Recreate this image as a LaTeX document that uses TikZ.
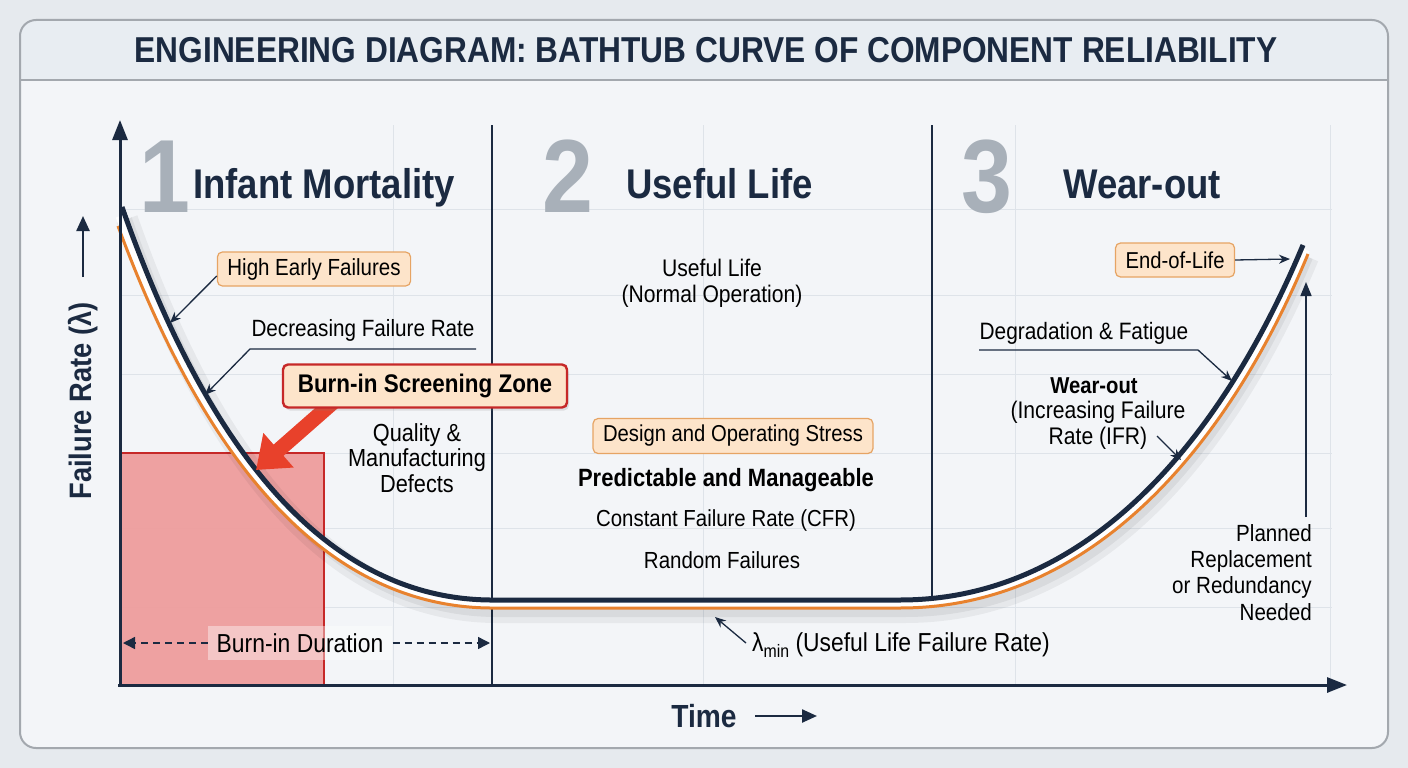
\documentclass[tikz,border=0pt]{standalone}
\usepackage{fontspec}
\setmainfont{Liberation Sans}[FakeStretch=0.88]
\usetikzlibrary{arrows.meta,shadows}
\definecolor{navy}{HTML}{1B2A41}
\definecolor{pageb}{HTML}{E6EAEE}
\definecolor{framefill}{HTML}{F3F5F8}
\definecolor{titlefill}{HTML}{E8EDF2}
\definecolor{frameline}{HTML}{A3A8AE}
\definecolor{gridc}{HTML}{DEE3E9}
\definecolor{curveor}{HTML}{E8822E}
\definecolor{peach}{HTML}{FDE4CA}
\definecolor{peachline}{HTML}{E6A464}
\definecolor{zonered}{HTML}{C62828}
\definecolor{boxred}{HTML}{EE9D9D}
\definecolor{arrowred}{HTML}{E8412B}
\definecolor{digitgray}{HTML}{A8B0B9}
\newcommand{\fsz}[1]{\fontsize{#1}{26}\selectfont}
\begin{document}
\begin{tikzpicture}[x=1pt,y=-1pt,
 lbl/.style={font=\fsz{23.5}, text=black, inner sep=0pt, align=center},
 tag/.style={lbl, draw=peachline, fill=peach, rounded corners=5pt, line width=1.2pt, inner xsep=10pt, inner ysep=0pt, minimum height=34pt},
 leader/.style={draw=navy, line width=1.3pt, -{Stealth[length=11pt,width=9pt]}},
 head/.style={font=\fontsize{41.5}{46}\selectfont\bfseries, text=navy, inner sep=0pt, anchor=base west},
 digit/.style={font=\fontsize{104}{104}\selectfont\bfseries, text=digitgray, inner sep=0pt, anchor=base},
 axisline/.style={draw=navy, line width=3pt, -{Triangle[length=20pt,width=15pt]}},
 gridline/.style={draw=gridc, line width=1pt},
 labarrow/.style={draw=navy, line width=2.4pt, -{Triangle[length=15pt,width=13pt]}},
 durarrow/.style={draw=navy, line width=1.4pt, dash pattern=on 7pt off 5pt, -{Triangle[length=12pt,width=12pt]}},
]
\useasboundingbox (0,0) rectangle (1408,768);
% background
\fill[pageb] (0,0) rectangle (1408,768);
\fill[framefill] [rounded corners=16pt] (20,20) rectangle (1388,748);
\begin{scope}
\clip [rounded corners=16pt] (20,20) rectangle (1388,748);
\fill[titlefill] (20,20) rectangle (1388,80);
\end{scope}
\draw[frameline, line width=2.2pt] (20,80) -- (1388,80);
\draw[frameline, line width=2pt] [rounded corners=16pt] (20,20) rectangle (1388,748);
\node[font=\fontsize{36}{40}\selectfont\bfseries, text=navy] (title) at (706,50) {ENGINEERING DIAGRAM: BATHTUB CURVE OF COMPONENT RELIABILITY};

% grid
\foreach \gx in {393,703,1015,1330} \draw[gridline] (\gx,125) -- (\gx,685);
\foreach \gy in {209,295,374,453,528,607} \draw[gridline] (120,\gy) -- (1332,\gy);

% burn-in zone box
\fill[boxred, opacity=0.95] (120,453) rectangle (324,685);
\draw[zonered, line width=1.6pt] (120,453) -- (324,453) -- (324,685);

% dividers
\draw[navy, line width=1.6pt] (492,125) -- (492,685);
\draw[navy, line width=1.6pt] (932,125) -- (932,600);

% curve shadow
\begin{scope}[shift={(5,12)}]
\draw[black, opacity=0.05, line width=22pt] (122,207) .. controls (190,400) and (300,598) .. (490,600) -- (900,600) .. controls (1100,600) and (1230,420) .. (1303,245);
\draw[black, opacity=0.06, line width=10pt] (122,207) .. controls (190,400) and (300,598) .. (490,600) -- (900,600) .. controls (1100,600) and (1230,420) .. (1303,245);
\end{scope}
% white gap, orange, navy
\draw[white, line width=9pt] (120,216) .. controls (188,405) and (299,602) .. (490,604) -- (900,604) .. controls (1102,604) and (1233.5,423) .. (1305.5,249.5);
\draw[curveor, line width=3pt] (118,226) .. controls (186,410) and (298,606) .. (490,608) -- (900,608) .. controls (1104,608) and (1237,426) .. (1308,254);
\draw[navy, line width=5pt] (122,207) .. controls (190,400) and (300,598) .. (490,600) -- (900,600) .. controls (1100,600) and (1230,420) .. (1303,245);

% axes
\coordinate (origin) at (120,687);
\coordinate (ytop) at (120,120);
\coordinate (xorig) at (118,685);
\coordinate (xend) at (1347,685);
\draw[axisline] (origin) -- (ytop);
\draw[axisline] (xorig) -- (xend);

% axis labels
\node[font=\fontsize{31}{34}\selectfont\bfseries, text=navy, rotate=90, inner sep=0pt] (ylab) at (83,401) {Failure Rate (λ)};
\coordinate (ylabtip) at (83,216);
\coordinate (ylabst) at (83,277);
\draw[labarrow] (ylabst) -- (ylabtip);
\node[font=\fontsize{32}{34}\selectfont\bfseries, text=navy, inner sep=0pt] (time) at (704,716) {Time};
\coordinate (timest) at (755,716);
\coordinate (timetip) at (817,716);
\draw[labarrow] (timest) -- (timetip);

% headings
\node[digit] (d1) at (165,212) {1};
\node[head] (h1) at (193,198) {Infant Mortality};
\node[digit] (d2) at (568,212) {2};
\node[head] (h2) at (626,198) {Useful Life};
\node[digit] (d3) at (987,212) {3};
\node[head] (h3) at (1063,198) {Wear-out};

% phase 1 annotations
\node[tag, font=\fsz{23.3}] (hef) at (314,269) {High Early Failures};
\coordinate (c0) at (170,323);
\draw[leader] ([yshift=-7pt]hef.west) -- (c0);
\node[lbl] (dfr) at (363,330) {Decreasing Failure Rate};
\coordinate (dfrR) at (476,349);
\coordinate (dfrL) at (250,349);
\coordinate (c1) at (205,395);
\draw[leader] (dfrR) -- (dfrL) -- (c1);
\node[lbl, font=\fontsize{24.7}{25.5}\selectfont] (qmd) at (417,458) {Quality \&\\Manufacturing\\Defects};

% burn-in screening zone callout
\coordinate (bzfoot) at (338,398);
\coordinate (bztip) at (256,470);
\draw[arrowred, line width=15pt, -{Triangle[length=30pt,width=44pt]}] (bzfoot) -- (bztip);
\node[tag, draw=zonered, line width=2.4pt, font=\fontsize{25.5}{28}\selectfont\bfseries, minimum width=284pt, minimum height=43pt, drop shadow={opacity=0.2, shadow xshift=2pt, shadow yshift=-3pt}] (bsz) at (425,386) {Burn-in Screening Zone};

% burn-in duration
\node[lbl, font=\fsz{26}, fill=white, fill opacity=0.4, text opacity=1, inner xsep=9pt, inner ysep=7pt] (bdl) at (300,643) {Burn-in Duration};
\coordinate (bdL) at (123,643);
\coordinate (bdR) at (490,643);
\draw[durarrow] (bdl.west) -- (bdL);
\draw[durarrow] (bdl.east) -- (bdR);

% phase 2 annotations
\node[lbl, font=\fsz{24}] (ulno) at (712,283) {Useful Life\\(Normal Operation)};
\node[tag, font=\fsz{23}, minimum height=35pt] (dos) at (733,436) {Design and Operating Stress};
\node[lbl, font=\fontsize{25}{26}\selectfont\bfseries] (pm) at (726,480) {Predictable and Manageable};
\node[lbl, font=\fsz{23.2}] (cfr) at (726,520) {Constant Failure Rate (CFR)};
\node[lbl, font=\fsz{23.3}] (rf) at (722,560) {Random Failures};
\node[lbl, font=\fsz{26}, anchor=west] (lmin) at (752,645) {λ\raisebox{-6pt}{\fontsize{18}{18}\selectfont min} (Useful Life Failure Rate)};
\coordinate (c2) at (715,617);
\draw[leader] ([xshift=-6pt,yshift=2pt]lmin.west) -- (c2);

% phase 3 annotations
\node[tag, font=\fsz{23}] (eol) at (1175,260) {End-of-Life};
\coordinate (eoltip) at (1290,259);
\draw[leader] (eol.east) -- (eoltip);
\node[lbl, font=\fsz{23.7}] (dgf) at (1084,333) {Degradation \& Fatigue};
\coordinate (dgL) at (979,350);
\coordinate (dgR) at (1198,350);
\coordinate (c3) at (1232,381);
\draw[leader] (dgL) -- (dgR) -- (c3);
\node[lbl, font=\fontsize{23}{26}\selectfont\bfseries] (wo) at (1094,386) {Wear-out};
\node[lbl, font=\fsz{24}] (ifr) at (1098,425) {(Increasing Failure\\Rate (IFR)};
\coordinate (ifrs) at (1157,436);
\coordinate (c4) at (1181,460);
\draw[leader] (ifrs) -- (c4);
\node[lbl, font=\fontsize{23.4}{26.3}\selectfont, align=right, anchor=north east] (prr) at (1312,524) {Planned\\Replacement\\or Redundancy\\Needed};
\coordinate (prs) at (1306,517);
\coordinate (prt) at (1306,282);
\draw[navy, line width=1.6pt, -{Triangle[length=14pt,width=11pt]}] (prs) -- (prt);
\end{tikzpicture}
\end{document}
